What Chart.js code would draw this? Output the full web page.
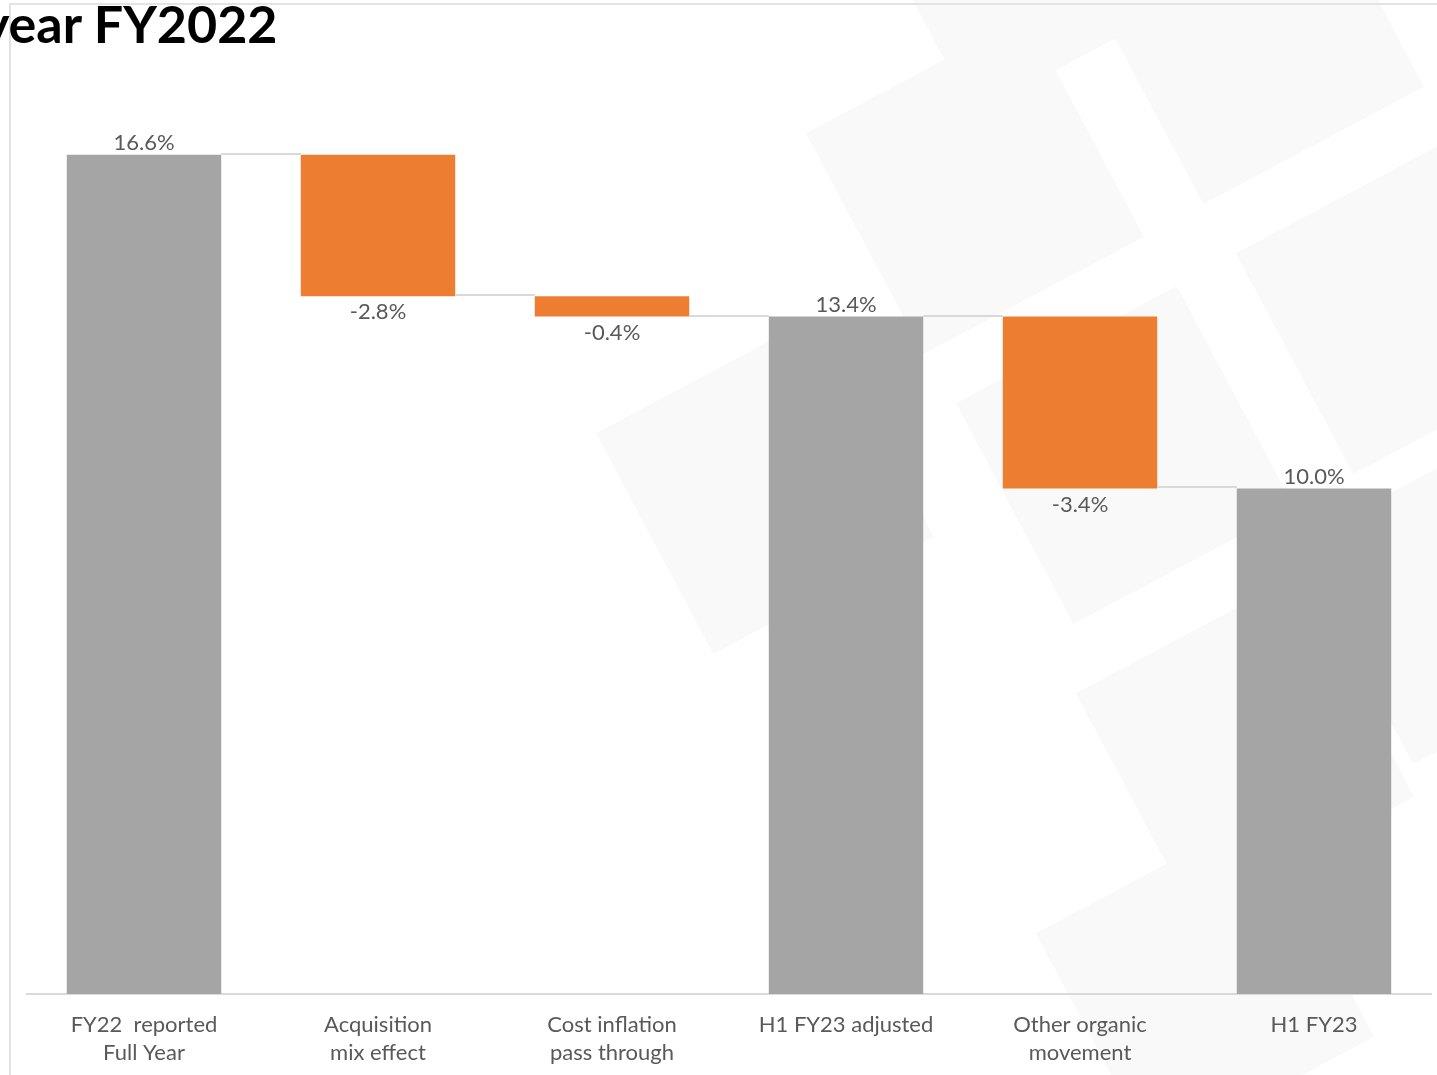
<!DOCTYPE html>
<html>
<head>
<meta charset="utf-8">
<script src="https://cdn.jsdelivr.net/npm/chart.js@4.4.1/dist/chart.umd.min.js"></script>
<style>
  html, body { margin: 0; padding: 0; background: #fff; overflow: hidden; }
  #wrap { position: relative; width: 1437px; height: 1075px; overflow: hidden; }
  .tile { position: absolute; width: 250px; height: 250px; background: #f9f9f9; transform: rotate(-28deg); }
  #frameTop { position: absolute; left: 9px; top: 3px; width: 1428px; height: 2px; background: #e3e3e3; }
  #frameLeft { position: absolute; left: 9px; top: 3px; width: 2px; height: 1072px; background: #e3e3e3; }
  #title { position: absolute; left: -18px; top: -8px; font-family: Lato, sans-serif; font-weight: 700; font-size: 52px; color: #000; white-space: nowrap; }
  canvas { position: absolute; left: 0; top: 0; }
</style>
</head>
<body>
<div id="wrap">
  <div class="tile" style="left:850px;top:60px"></div>
  <div class="tile" style="left:1130px;top:-90px"></div>
  <div class="tile" style="left:1000px;top:330px"></div>
  <div class="tile" style="left:1280px;top:180px"></div>
  <div class="tile" style="left:640px;top:360px"></div>
  <div class="tile" style="left:1120px;top:620px"></div>
  <div class="tile" style="left:1340px;top:470px"></div>
  <div class="tile" style="left:1080px;top:860px"></div>
  <div class="tile" style="left:900px;top:-180px"></div>
  <div id="frameTop"></div>
  <div id="frameLeft"></div>
  <div id="title">year FY2022</div>
  <canvas id="chart" width="1437" height="1084"></canvas>
</div>
<script>
const categories = [
    ['FY22  reported', 'Full Year'],
    ['Acquisition', 'mix effect'],
    ['Cost inflation', 'pass through'],
    ['H1 FY23 adjusted'],
    ['Other organic', 'movement'],
    ['H1 FY23']
];
const values = [16.6, -2.8, -0.4, 13.4, -3.4, 10.0];
const isTotal = [true, false, false, true, false, true];

const grey = '#a5a5a5';
const orange = '#ed7d31';

// floating ranges for the waterfall
const ranges = [];
let level = 0;
values.forEach((v, i) => {
    if (isTotal[i]) {
        ranges.push([0, v]);
        level = v;
    } else {
        ranges.push([level + v, level]);
        level = level + v;
    }
});

const waterfallExtras = {
    id: 'waterfallExtras',
    afterDatasetsDraw(chart) {
        const ctx = chart.ctx;
        const meta = chart.getDatasetMeta(0);
        const y = chart.scales.y;
        ctx.save();
        // connectors
        ctx.strokeStyle = '#d9d9d9';
        ctx.lineWidth = 2;
        for (let i = 0; i < meta.data.length - 1; i++) {
            const a = meta.data[i], b = meta.data[i + 1];
            const lvl = isTotal[i] ? ranges[i][1] : ranges[i][0];
            const py = Math.round(y.getPixelForValue(lvl)) - 1;
            ctx.beginPath();
            ctx.moveTo(a.x + a.width / 2, py);
            ctx.lineTo(b.x - b.width / 2, py);
            ctx.stroke();
        }
        // labels
        ctx.fillStyle = '#595959';
        ctx.font = '22px Lato, sans-serif';
        ctx.textAlign = 'center';
        meta.data.forEach((bar, i) => {
            const txt = values[i].toFixed(1) + '%';
            if (values[i] >= 0) {
                ctx.textBaseline = 'bottom';
                ctx.fillText(txt, bar.x, y.getPixelForValue(ranges[i][1]) - 1);
            } else {
                ctx.textBaseline = 'top';
                ctx.fillText(txt, bar.x, y.getPixelForValue(ranges[i][0]) + 5);
            }
        });
        ctx.restore();
    }
};

new Chart(document.getElementById('chart').getContext('2d'), {
    type: 'bar',
    data: {
        labels: categories,
        datasets: [{
            data: ranges,
            backgroundColor: isTotal.map(t => t ? grey : orange),
            borderWidth: 0,
            borderSkipped: false,
            categoryPercentage: 1,
            barPercentage: 0.66
        }]
    },
    options: {
        responsive: false,
        animation: false,
        layout: { padding: { top: 84, left: 27, right: 6, bottom: 8 } },
        scales: {
            x: {
                grid: { display: false },
                border: { color: '#d9d9d9', width: 2 },
                ticks: {
                    color: '#595959',
                    font: { family: 'Lato, sans-serif', size: 22, lineHeight: 1.273 },
                    padding: 9,
                    maxRotation: 0,
                    autoSkip: false
                }
            },
            y: {
                display: false,
                min: 0,
                max: 18
            }
        },
        plugins: {
            legend: { display: false },
            tooltip: { enabled: false }
        }
    },
    plugins: [waterfallExtras]
});
</script>
</body>
</html>
